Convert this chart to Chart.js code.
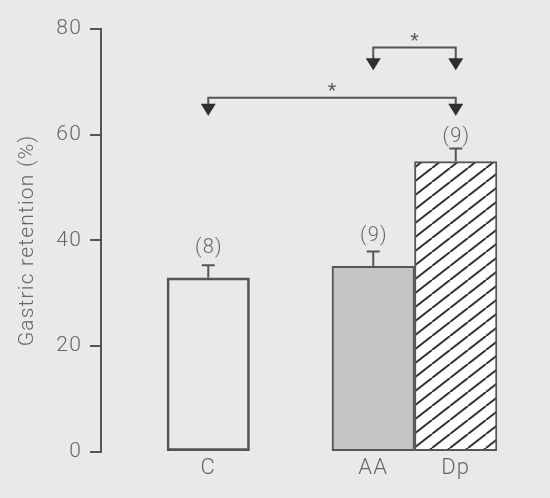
<!DOCTYPE html>
<html>
<head>
<meta charset="utf-8">
<script src="https://cdn.jsdelivr.net/npm/chart.js@4/dist/chart.umd.min.js"></script>
<style>
    html, body { margin: 0; padding: 0; background: #e9e9e9; }
    #wrap { width: 550px; height: 498px; }
</style>
</head>
<body>
<div id="wrap"><canvas id="chart" width="550" height="498"></canvas></div>
<script>
// Data
const groups = ['C', 'AA', 'Dp'];
const groupPos = [1, 3, 4];          // slot on the x axis (gap between C and AA)
const retention = [32.9, 35.1, 54.9];
const sem = [2.4, 2.8, 2.5];
const nLabels = ['(8)', '(9)', '(9)'];
const nLabelY = [38.5, 40.9, 59.6];
const yTicks = [0, 20, 40, 60, 80];

// Significance brackets
const sigFrom = [3, 1];
const sigTo = [4, 4];
const sigLevel = [76.5, 67];
const sigTip = [72.2, 63.6];
const sigStarY = [77.6, 68.1];

const FONT = 'Roboto, "Liberation Sans", Arial, sans-serif';
const TXT = '#666';
const LINE = '#555';

function makeHatch() {
    const c = document.createElement('canvas');
    c.width = 18; c.height = 14;
    const g = c.getContext('2d');
    g.fillStyle = '#fff';
    g.fillRect(0, 0, 18, 14);
    g.strokeStyle = '#333';
    g.lineWidth = 2;
    g.beginPath();
    g.moveTo(0, 14); g.lineTo(18, 0);
    g.moveTo(-18, 14); g.lineTo(0, 0);
    g.moveTo(18, 14); g.lineTo(36, 0);
    g.stroke();
    return document.getElementById('chart').getContext('2d').createPattern(c, 'repeat');
}

// slightly tracked text, like the original typesetting
const tracking = {
    id: 'tracking',
    beforeDraw(chart) { chart.ctx.letterSpacing = '1.2px'; }
};

const annotations = {
    id: 'annotations',
    afterDatasetsDraw(chart) {
        const { ctx, scales: { x, y } } = chart;
        const bars = chart.getDatasetMeta(0).data;
        ctx.save();
        ctx.strokeStyle = LINE;
        ctx.lineWidth = 2;
        ctx.textAlign = 'center';
        ctx.textBaseline = 'middle';

        // error bars + n labels
        bars.forEach((bar, i) => {
            const top = y.getPixelForValue(retention[i] + sem[i]);
            ctx.beginPath();
            ctx.moveTo(bar.x, bar.y);
            ctx.lineTo(bar.x, top);
            ctx.moveTo(bar.x - 6.5, top);
            ctx.lineTo(bar.x + 6.5, top);
            ctx.stroke();
            ctx.fillStyle = TXT;
            ctx.font = '300 20px ' + FONT;
            ctx.fillText(nLabels[i], bar.x + 0.6, y.getPixelForValue(nLabelY[i]));
        });

        // brackets with arrows and stars
        sigFrom.forEach((f, k) => {
            const x0 = x.getPixelForValue(f);
            const x1 = x.getPixelForValue(sigTo[k]);
            const yl = y.getPixelForValue(sigLevel[k]);
            const yt = y.getPixelForValue(sigTip[k]);
            ctx.strokeStyle = LINE;
            ctx.beginPath();
            ctx.moveTo(x0, yt - 11);
            ctx.lineTo(x0, yl);
            ctx.lineTo(x1, yl);
            ctx.lineTo(x1, yt - 11);
            ctx.stroke();
            ctx.fillStyle = '#2e2e2e';
            [x0, x1].forEach(px => {
                ctx.beginPath();
                ctx.moveTo(px - 7.5, yt - 12);
                ctx.lineTo(px + 7.5, yt - 12);
                ctx.lineTo(px, yt);
                ctx.closePath();
                ctx.fill();
            });
            ctx.fillStyle = '#555';
            ctx.font = '22px "Liberation Sans", Arial, sans-serif';
            ctx.fillText('*', (x0 + x1) / 2 + 0.6, y.getPixelForValue(sigStarY[k]));
        });
        ctx.restore();
    }
};

function init() {
    const ctx = document.getElementById('chart').getContext('2d');
    new Chart(ctx, {
        type: 'bar',
        data: {
            datasets: [{
                data: groupPos.map((p, i) => ({ x: p, y: retention[i] })),
                backgroundColor: ['rgba(0,0,0,0)', '#c5c5c5', makeHatch()],
                borderColor: LINE,
                borderWidth: 2,
                borderSkipped: false,
                barPercentage: 1,
                categoryPercentage: 1
            }]
        },
        options: {
            responsive: false,
            animation: false,
            devicePixelRatio: 1,
            layout: { padding: { left: 0, right: 53, top: 29, bottom: 0 } },
            plugins: { legend: { display: false }, tooltip: { enabled: false } },
            scales: {
                x: {
                    type: 'linear',
                    min: -0.3,
                    max: 4.5,
                    offset: false,
                    grid: { display: false, drawTicks: false },
                    border: { display: false },
                    afterBuildTicks: s => { s.ticks = groupPos.map(v => ({ value: v })); },
                    afterFit: s => { s.height = 46.3; },
                    ticks: {
                        autoSkip: false,
                        maxRotation: 0,
                        padding: 4,
                        color: TXT,
                        font: { family: FONT, size: 22, weight: 300 },
                        callback: (v, i) => groups[i]
                    }
                },
                y: {
                    min: 0,
                    max: 80,
                    afterBuildTicks: s => { s.ticks = yTicks.map(v => ({ value: v })); },
                    afterFit: s => { s.width = 101; },
                    grid: { drawOnChartArea: false, tickLength: 11, color: LINE, lineWidth: 2 },
                    border: { color: LINE, width: 2 },
                    ticks: {
                        padding: 8,
                        color: TXT,
                        font: { family: FONT, size: 21, weight: 300 }
                    },
                    title: {
                        display: true,
                        text: 'Gastric retention (%)',
                        color: TXT,
                        font: { family: FONT, size: 21, weight: 300 },
                        padding: { top: 15, bottom: 0 }
                    }
                }
            }
        },
        plugins: [tracking, annotations]
    });
}

window.addEventListener('DOMContentLoaded', init);
</script>
</body>
</html>
